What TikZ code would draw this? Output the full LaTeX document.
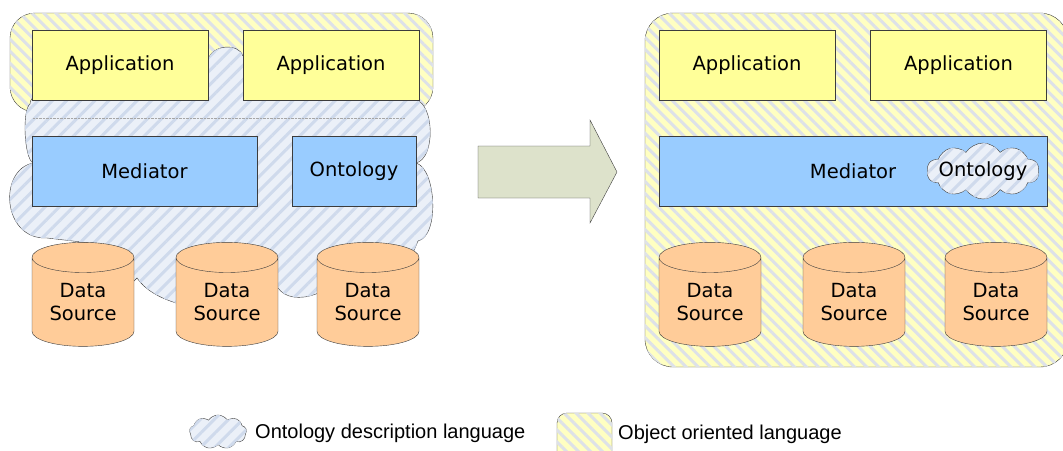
\documentclass[tikz,border=0pt]{standalone}
\usepackage{fontspec}
\setmainfont{DejaVu Sans}
\newfontfamily\legendfont{Liberation Sans}
\usetikzlibrary{shapes,positioning,patterns.meta}

\definecolor{appyellow}{HTML}{FFFF99}
\definecolor{medblue}{HTML}{99CCFF}
\definecolor{dsorange}{HTML}{FFCC99}
\definecolor{arrowgreen}{HTML}{DDE2CB}
\definecolor{oolyellow}{HTML}{FFFFC2}
\definecolor{oolstripe}{HTML}{DDE1E8}
\definecolor{odlblue}{HTML}{EBF0F8}
\definecolor{odlstripe}{HTML}{CFDAEC}
\definecolor{edgegray}{HTML}{3C3C3C}

\tikzset{
  ool/.style={draw=edgegray, fill=oolyellow,
    postaction={pattern={Lines[angle=-45,distance=8.5pt,line width=3pt]}, pattern color=oolstripe}},
  odl/.style={draw=edgegray, fill=odlblue,
    postaction={pattern={Lines[angle=45,distance=10pt,line width=3pt]}, pattern color=odlstripe}},
  app/.style={draw=edgegray, fill=appyellow, minimum width=176pt, minimum height=70pt, inner sep=0pt},
  layer/.style={draw=edgegray, fill=medblue, minimum height=70pt, inner sep=0pt},
  store/.style={cylinder, shape border rotate=90, draw=edgegray, fill=dsorange,
    minimum width=102pt, minimum height=104pt, aspect=0.45, inner sep=0pt, align=center},
  puff/.style={cloud, cloud puffs=10, cloud puff arc=115, aspect=2, inner sep=0pt}
}

\begin{document}
\begin{tikzpicture}[x=1pt, y=-1pt, font=\fontsize{19.5}{22.5}\selectfont]
\clip (0,0) rectangle (1063,450);

% left: object oriented part with ontology cloud on top
\draw[ool, rounded corners=25pt] (10,13) rectangle (433,112);
\draw[odl] (30,104) .. controls (30,96) and (40,92) .. (60,92) -- (208,60)
  .. controls (212,44) and (239,43) .. (243,56) -- (405,98) -- (416,100)
  .. controls (434,104) and (436,158) .. (416,163)
  .. controls (436,168) and (440,236) .. (418,241) -- (410,260) -- (316,294)
  .. controls (300,300) and (285,298) .. (278,288) -- (180,290) -- (176,303)
  .. controls (160,298) and (145,290) .. (137,278) -- (134,281) -- (90,243) -- (47,238)
  .. controls (2,240) and (-2,170) .. (33,163)
  .. controls (24,158) and (22,110) .. (30,104) -- cycle;
\draw[gray!70, densely dotted, thin] (33,118) -- (405,118);

\node[app] (appA) at (120,65) {Application};
\node[app] (appB) at (331,65) {Application};
\node[layer, minimum width=225pt] (medL) at (144.5,171) {Mediator};
\node[layer, minimum width=124pt] (ontL) at (354,171) {Ontology};
\node[store] (dsA) at (83,302) {Data\\Source};
\node[store] (dsB) at (227,302) {Data\\Source};
\node[store] (dsC) at (368,302) {Data\\Source};

% arrow
\draw[edgegray, fill=arrowgreen] (478,146) -- (590,146) -- (590,120) -- (617,172)
  -- (590,223) -- (590,198) -- (478,198) -- cycle;

% right: everything object oriented
\draw[ool, rounded corners=28pt] (645,13) rectangle (1068,367);
\node[app] (appC) at (747,65) {Application};
\node[app] (appD) at (958.5,65) {Application};
\node[layer, minimum width=388pt] (medR) at (853,171) {Mediator};
\node[odl, puff, minimum width=112pt, minimum height=56pt,
  label={[inner sep=0pt]center:Ontology}] (ontR) at (983,171) {};
\node[store] (dsD) at (710,302) {Data\\Source};
\node[store] (dsE) at (854,302) {Data\\Source};
\node[store] (dsF) at (996,302) {Data\\Source};

% legend
\node[odl, puff, cloud puffs=9, aspect=1.7, minimum width=57pt, minimum height=34pt] (legodl) at (218,432) {};
\node[font=\legendfont\fontsize{20}{22}\selectfont, anchor=west, inner sep=0pt] (txtodl) at (255,433) {Ontology description language};
\node[ool, rounded corners=10pt, minimum width=55pt, minimum height=48pt, inner sep=0pt] (legool) at (584.5,437) {};
\node[font=\legendfont\fontsize{20}{22}\selectfont, anchor=west, inner sep=0pt] (txtool) at (618,434) {Object oriented language};
\end{tikzpicture}
\end{document}
